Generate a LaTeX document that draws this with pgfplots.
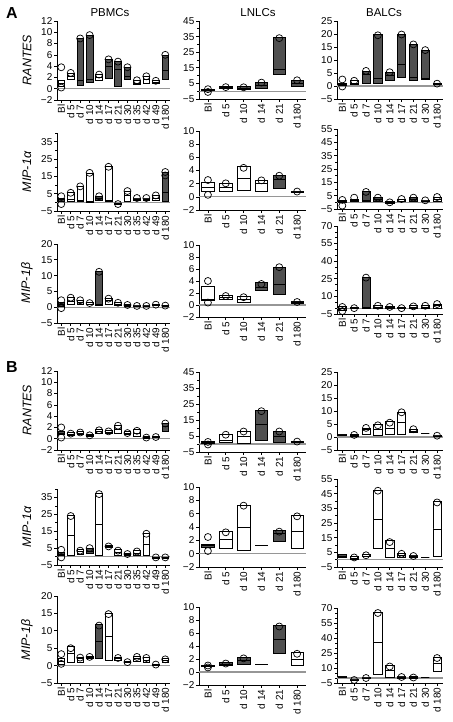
\documentclass[border=0pt]{standalone}
\usepackage{pgfplots}
\pgfplotsset{compat=1.18}
\usepgfplotslibrary{statistics}
\usepackage{fontspec}
\setmainfont{Liberation Sans}
\definecolor{dk}{RGB}{80,80,80}
\definecolor{zlc}{RGB}{150,150,150}
\newcommand\tl{\fontsize{10}{10}\selectfont}
\newcommand\bx[5]{\addplot[bxs,#5,boxplot prepared={draw direction=y,draw position=#1,lower whisker=#2,lower quartile=#2,median=#3,upper quartile=#4,upper whisker=#4,box extend=0.7,whisker extend=0}]}
\pgfplotsset{
 bxs/.style={draw=black, line width=0.65bp, mark=o, mark size=3.5bp, mark options={line width=0.7bp, fill=none, solid}},
 wh/.style={fill=white},
 dk/.style={fill=dk},
 panel/.style={scale only axis, anchor=south west, axis x line*=bottom, axis y line*=left,
   tick align=outside, major tick length=3bp, minor tick length=2bp,
   tick style={black, line width=0.6bp}, axis line style={line width=0.7bp},
   x tick label style={rotate=90, anchor=east, font=\tl, inner sep=1.5bp},
   y tick label style={font=\tl, inner sep=1.5bp},
   enlargelimits=false, clip=false,
   extra y ticks={0}, extra y tick labels={},
   extra y tick style={grid=major, major grid style={draw=zlc, line width=1.2bp}, major tick length=0pt}},
 pb/.style={panel, width=113bp, xmin=-0.45, xmax=11.5, xtick={0,...,11},
   xticklabels={Bl,d 5,d 7,d 10,d 14,d 17,d 21,d 30,d 35,d 42,d 49,d 180}},
 ln/.style={panel, width=107bp, xmin=-0.5, xmax=5.5, xtick={0,...,5},
   xticklabels={Bl,d 5,d 10,d 14,d 21,d 180}},
 ba/.style={panel, width=106bp, xmin=-0.45, xmax=8.5, xtick={0,...,8},
   xticklabels={Bl,d 5,d 7,d 10,d 14,d 17,d 21,d 30,d 180}},
 yR/.style={ymin=-2, ymax=12, ytick={-2,0,...,12}, yticklabels={−2,0,2,4,6,8,10,12}},
 yA/.style={ymin=-5, ymax=40, ytick={-5,5,15,25,35}, yticklabels={−5,5,15,25,35}, minor ytick={0,10,20,30,40}},
 yB/.style={ymin=-5, ymax=20, ytick={-5,0,...,20}, yticklabels={−5,0,5,10,15,20}},
 yLR/.style={ymin=-5, ymax=45, ytick={-5,5,...,45}, yticklabels={−5,5,15,25,35,45}, minor ytick={0,10,...,40}},
 yLM/.style={ymin=-2, ymax=10, ytick={-2,0,...,10}, yticklabels={−2,0,2,4,6,8,10}},
 yBR/.style={ymin=-5, ymax=25, ytick={-5,0,...,25}, yticklabels={−5,0,5,10,15,20,25}},
 yBA/.style={ymin=-5, ymax=55, ytick={-5,5,...,55}, yticklabels={−5,5,15,25,35,45,55}, minor ytick={0,10,...,50}},
 yBB/.style={ymin=-5, ymax=70, ytick={-5,10,25,40,55,70}, yticklabels={−5,10,25,40,55,70}, minor ytick={0,5,15,20,30,35,45,50,60,65}},
}
\begin{document}
\begin{tikzpicture}[x=1bp,y=1bp]
\useasboundingbox (0,0) rectangle (453,722);
% ================= A =================
% A PBMC RANTES
\begin{axis}[pb, yR, at={(57bp,622bp)}, height=79bp]
\bx{0}{0.5}{1.0}{1.4}{wh} coordinates {(0,3.8) (0,0.2)};
\bx{1}{1.6}{2.2}{2.8}{wh} coordinates {(1,2.8)};
\bx{2}{0.6}{1.4}{8.9}{dk} coordinates {(2,8.9)};
\bx{3}{1.2}{1.6}{9.4}{dk} coordinates {(3,9.5)};
\bx{4}{1.5}{2.0}{2.5}{wh} coordinates {(4,2.5)};
\bx{5}{1.8}{4.0}{5.2}{dk} coordinates {(5,5.2)};
\bx{6}{0.5}{3.5}{4.8}{dk} coordinates {(6,4.8)};
\bx{7}{1.7}{2.2}{3.8}{dk} coordinates {(7,3.8)};
\bx{8}{0.8}{1.0}{1.5}{wh} coordinates {(8,1.5)};
\bx{9}{1.0}{1.6}{2.2}{wh} coordinates {(9,2.2)};
\bx{10}{0.9}{1.1}{1.4}{wh} coordinates {(10,1.4)};
\bx{11}{1.6}{3.2}{6.0}{dk} coordinates {(11,6.0)};
\end{axis}
% A LNLC RANTES
\begin{axis}[ln, yLR, at={(199bp,623bp)}, height=78bp]
\bx{0}{0.5}{1.0}{1.4}{dk} coordinates {(0,1.3) (0,-0.5)};
\bx{1}{1.8}{2.2}{2.8}{wh} coordinates {(1,2.6)};
\bx{2}{1.5}{2.0}{2.8}{dk} coordinates {(2,2.5)};
\bx{3}{2.0}{3.5}{5.5}{dk} coordinates {(3,5.5)};
\bx{4}{11}{14}{34.5}{dk} coordinates {(4,34)};
\bx{5}{3}{5}{7}{dk} coordinates {(5,7)};
\end{axis}
% A BALC RANTES
\begin{axis}[ba, yBR, at={(337bp,623bp)}, height=78bp]
\bx{0}{0.2}{0.6}{1.0}{wh} coordinates {(0,2.5) (0,-0.2)};
\bx{1}{0.8}{1.2}{2.0}{wh} coordinates {(1,2.0)};
\bx{2}{1.0}{4.5}{5.8}{dk} coordinates {(2,5.8)};
\bx{3}{1.2}{3.0}{19.8}{dk} coordinates {(3,19.5)};
\bx{4}{2.0}{4.2}{5.2}{dk} coordinates {(4,5.3)};
\bx{5}{3.2}{8.2}{19.8}{dk} coordinates {(5,19.8)};
\bx{6}{2.2}{3.2}{16.2}{dk} coordinates {(6,16)};
\bx{7}{2.4}{2.8}{13.7}{dk} coordinates {(7,13.8)};
\bx{8}{0.6}{0.9}{1.2}{dk} coordinates {(8,0.9)};
\end{axis}
% A PBMC MIP-1a
\begin{axis}[pb, yA, at={(57bp,511bp)}, height=78bp]
\bx{0}{0.8}{1.5}{2.5}{dk} coordinates {(0,3.5) (0,-1.0)};
\bx{1}{0.5}{1.5}{5.5}{wh} coordinates {(1,5.5)};
\bx{2}{0.5}{1.0}{9.2}{wh} coordinates {(2,9.2)};
\bx{3}{0.0}{0.5}{17.0}{wh} coordinates {(3,17)};
\bx{4}{1.0}{2.5}{3.5}{dk} coordinates {(4,3.5)};
\bx{5}{0.5}{1.0}{20.5}{wh} coordinates {(5,20.5)};
\bx{6}{-1.2}{-1.0}{-0.8}{wh} coordinates {(6,-1)};
\bx{7}{0.5}{4.0}{6.5}{wh} coordinates {(7,6.5)};
\bx{8}{1.0}{2.0}{2.5}{wh} coordinates {(8,2.5)};
\bx{9}{1.0}{2.0}{2.5}{wh} coordinates {(9,2.5)};
\bx{10}{1.0}{2.5}{4.0}{wh} coordinates {(10,4.0)};
\bx{11}{0.5}{5.5}{17.5}{dk} coordinates {(11,17.5) (11,15.5)};
\end{axis}
% A LNLC MIP-1a
\begin{axis}[ln, yLM, at={(199bp,512bp)}, height=79bp]
\bx{0}{0.8}{1.4}{2.15}{wh} coordinates {(0,2.55) (0,0.3)};
\bx{1}{0.9}{1.5}{2.1}{wh} coordinates {(1,2.05)};
\bx{2}{1.0}{2.8}{4.6}{wh} coordinates {(2,4.4)};
\bx{3}{0.9}{2.0}{2.5}{wh} coordinates {(3,2.5)};
\bx{4}{1.3}{2.7}{3.2}{dk} coordinates {(4,3.2)};
\bx{5}{0.7}{0.75}{0.85}{dk} coordinates {(5,0.8)};
\end{axis}
% A BALC MIP-1a
\begin{axis}[ba, yBA, at={(337bp,513bp)}, height=80bp]
\bx{0}{0}{0.8}{1.5}{wh} coordinates {(0,1.8) (0,-2.5)};
\bx{1}{0.5}{1.5}{2.5}{dk} coordinates {(1,3.5)};
\bx{2}{1.0}{1.5}{8.0}{dk} coordinates {(2,7.8)};
\bx{3}{1.0}{2.5}{4.0}{dk} coordinates {(3,3.5)};
\bx{4}{-0.5}{0}{0.5}{wh} coordinates {(4,0)};
\bx{5}{0.5}{2.0}{2.5}{wh} coordinates {(5,2.5)};
\bx{6}{1.0}{2.5}{3.5}{dk} coordinates {(6,3.5)};
\bx{7}{0.5}{1.0}{1.5}{wh} coordinates {(7,1.5)};
\bx{8}{0.5}{2.5}{4.0}{wh} coordinates {(8,4.0)};
\end{axis}
% A PBMC MIP-1b
\begin{axis}[pb, yB, at={(57bp,399bp)}, height=79bp]
\bx{0}{0.3}{1.0}{1.5}{dk} coordinates {(0,2.2) (0,-0.3)};
\bx{1}{1.0}{1.7}{3.0}{wh} coordinates {(1,3.0)};
\bx{2}{0.8}{1.5}{2.2}{wh} coordinates {(2,2.2)};
\bx{3}{0.8}{1.0}{1.5}{wh} coordinates {(3,1.3)};
\bx{4}{0.5}{1.0}{11.5}{dk} coordinates {(4,11.2)};
\bx{5}{1.0}{2.2}{2.8}{wh} coordinates {(5,2.7)};
\bx{6}{0.5}{1.0}{1.5}{wh} coordinates {(6,1.4)};
\bx{7}{0.3}{0.5}{0.8}{wh} coordinates {(7,0.7)};
\bx{8}{0.2}{0.4}{0.6}{wh} coordinates {(8,0.4)};
\bx{9}{0.2}{0.4}{0.6}{wh} coordinates {(9,0.4)};
\bx{10}{0.5}{0.8}{1.0}{dk} coordinates {(10,0.8)};
\bx{11}{0.3}{0.5}{0.7}{wh} coordinates {(11,0.5)};
\end{axis}
% A LNLC MIP-1b
\begin{axis}[ln, yLM, at={(199bp,405bp)}, height=72bp]
\bx{0}{0.8}{1.0}{3.1}{wh} coordinates {(0,4.0) (0,0.4)};
\bx{1}{1.0}{1.3}{1.6}{wh} coordinates {(1,1.5)};
\bx{2}{0.5}{1.0}{1.4}{wh} coordinates {(2,1.3)};
\bx{3}{2.4}{3.0}{3.7}{dk} coordinates {(3,3.5)};
\bx{4}{1.8}{3.4}{6.3}{dk} coordinates {(4,6.3)};
\bx{5}{0.3}{0.5}{0.6}{dk} coordinates {(5,0.5)};
\end{axis}
% A BALC MIP-1b
\begin{axis}[ba, yBB, at={(337bp,408bp)}, height=88bp]
\bx{0}{-2.0}{0.0}{1.5}{wh} coordinates {(0,1.0) (0,-2.5)};
\bx{1}{-0.5}{0}{0.5}{wh} coordinates {(1,0)};
\bx{2}{0}{1}{26.5}{dk} coordinates {(2,26)};
\bx{3}{0}{1}{2.5}{wh} coordinates {(3,2)};
\bx{4}{0}{0.5}{1.5}{wh} coordinates {(4,1)};
\bx{5}{-0.5}{0}{0.5}{wh} coordinates {(5,0)};
\bx{6}{0}{1}{2}{wh} coordinates {(6,1.5)};
\bx{7}{0}{1}{2.5}{wh} coordinates {(7,2)};
\bx{8}{0}{2}{3.5}{wh} coordinates {(8,3.5)};
\end{axis}
% ================= B =================
% B PBMC RANTES
\begin{axis}[pb, yR, at={(57bp,272bp)}, height=79bp]
\bx{0}{0.7}{1.0}{1.3}{dk} coordinates {(0,2.0) (0,0.2)};
\bx{1}{0.6}{0.8}{1.1}{wh} coordinates {(1,0.9)};
\bx{2}{0.7}{1.0}{1.3}{wh} coordinates {(2,1.1)};
\bx{3}{0.4}{0.6}{0.8}{wh} coordinates {(3,0.6)};
\bx{4}{1.0}{1.3}{1.6}{wh} coordinates {(4,1.5)};
\bx{5}{1.0}{1.2}{1.5}{wh} coordinates {(5,1.3)};
\bx{6}{1.0}{1.7}{2.3}{wh} coordinates {(6,2.3)};
\bx{7}{0.7}{1.0}{1.3}{wh} coordinates {(7,1.0)};
\bx{8}{0.5}{1.0}{1.6}{wh} coordinates {(8,1.4)};
\bx{9}{0.1}{0.2}{0.4}{wh} coordinates {(9,0.2)};
\bx{10}{0.2}{0.3}{0.5}{wh} coordinates {(10,0.3)};
\bx{11}{1.3}{2.2}{2.8}{dk} coordinates {(11,2.7)};
\end{axis}
% B LNLC RANTES
\begin{axis}[ln, yLR, at={(199bp,270bp)}, height=80bp]
\bx{0}{0.2}{1.0}{1.5}{wh} coordinates {(0,1.3) (0,-0.3)};
\bx{1}{1.0}{2.5}{6.0}{wh} coordinates {(1,5.8)};
\bx{2}{0.5}{4.5}{8.0}{wh} coordinates {(2,7.8)};
\bx{3}{2.5}{12.0}{21.0}{dk} coordinates {(3,20.5)};
\bx{4}{1.0}{4.5}{8.0}{dk} coordinates {(4,7.8)};
\bx{5}{1.2}{1.5}{1.8}{wh} coordinates {(5,1.5)};
\end{axis}
% B BALC RANTES
\begin{axis}[ba, yBR, at={(337bp,272bp)}, height=78bp]
\bx{0}{0.5}{0.8}{1.1}{dk} coordinates {};
\bx{1}{0.3}{0.6}{1.0}{wh} coordinates {(1,0.8)};
\bx{2}{1.0}{2.8}{3.5}{wh} coordinates {(2,3.5)};
\bx{3}{0.8}{2.8}{4.8}{wh} coordinates {(3,4.5)};
\bx{4}{1.0}{3.5}{6.0}{wh} coordinates {(4,5.5)};
\bx{5}{1.2}{5.5}{9.5}{wh} coordinates {(5,9.5)};
\bx{6}{1.8}{2.2}{3.0}{wh} coordinates {(6,3.0)};
\bx{7}{1.5}{1.5}{1.5}{wh} coordinates {};
\bx{8}{0.2}{0.4}{0.6}{wh} coordinates {(8,0.5)};
\end{axis}
% B PBMC MIP-1a
\begin{axis}[pb, yA, at={(57bp,157bp)}, height=76bp]
\bx{0}{0.8}{1.5}{2.5}{dk} coordinates {(0,4.0) (0,-0.5)};
\bx{1}{0.5}{12.5}{24.5}{wh} coordinates {(1,24)};
\bx{2}{1.5}{3.0}{4.0}{wh} coordinates {(2,3.5)};
\bx{3}{2.0}{3.0}{5.0}{dk} coordinates {(3,5.0)};
\bx{4}{0.5}{19.0}{37.5}{wh} coordinates {(4,37)};
\bx{5}{5.5}{6.0}{6.5}{wh} coordinates {(5,6.0)};
\bx{6}{1.0}{2.5}{4.0}{wh} coordinates {(6,3.5)};
\bx{7}{1.0}{1.5}{2.0}{wh} coordinates {(7,1.5)};
\bx{8}{1.0}{2.0}{3.5}{wh} coordinates {(8,3.0)};
\bx{9}{0.5}{7.5}{14.0}{wh} coordinates {(9,13.5)};
\bx{10}{-0.8}{-0.5}{-0.2}{wh} coordinates {(10,-0.5)};
\bx{11}{-0.8}{-0.5}{-0.2}{wh} coordinates {(11,-0.5)};
\end{axis}
% B LNLC MIP-1a
\begin{axis}[ln, yLM, at={(199bp,155bp)}, height=80bp]
\bx{0}{1.0}{1.2}{1.4}{dk} coordinates {(0,2.5) (0,0.4)};
\bx{1}{0.8}{2.1}{3.4}{wh} coordinates {(1,3.2)};
\bx{2}{0.5}{3.9}{7.3}{wh} coordinates {(2,7.2)};
\bx{3}{1.2}{1.2}{1.2}{wh} coordinates {};
\bx{4}{1.8}{3.0}{3.5}{dk} coordinates {(4,3.3)};
\bx{5}{0.8}{3.3}{5.8}{wh} coordinates {(5,5.6)};
\end{axis}
% B BALC MIP-1a
\begin{axis}[ba, yBA, at={(337bp,155bp)}, height=88bp]
\bx{0}{1.5}{2.5}{3.5}{dk} coordinates {};
\bx{1}{0.5}{1.0}{2.0}{wh} coordinates {(1,1.5)};
\bx{2}{2.0}{2.5}{3.5}{wh} coordinates {(2,3.0)};
\bx{3}{7.5}{27.5}{47.5}{wh} coordinates {(3,47)};
\bx{4}{1.5}{7.5}{13.0}{wh} coordinates {(4,12)};
\bx{5}{1.5}{3.0}{4.5}{wh} coordinates {(5,4.0)};
\bx{6}{1.5}{2.5}{3.0}{wh} coordinates {(6,2.5)};
\bx{7}{1.8}{1.8}{1.8}{wh} coordinates {};
\bx{8}{2.0}{21.0}{39.5}{wh} coordinates {(8,39)};
\end{axis}
% B PBMC MIP-1b
\begin{axis}[pb, yB, at={(57bp,39bp)}, height=87bp]
\bx{0}{0.5}{1.2}{2.0}{wh} coordinates {(0,3.3) (0,0.5)};
\bx{1}{1.0}{3.5}{5.5}{wh} coordinates {(1,5.0)};
\bx{2}{1.0}{2.0}{2.5}{wh} coordinates {(2,2.3)};
\bx{3}{2.0}{2.4}{2.8}{wh} coordinates {(3,2.5)};
\bx{4}{2.0}{7.0}{12.0}{dk} coordinates {(4,11.5)};
\bx{5}{1.5}{8.5}{15.0}{wh} coordinates {(5,14.8)};
\bx{6}{1.5}{2.0}{2.5}{wh} coordinates {(6,2.2)};
\bx{7}{0.8}{1.0}{1.2}{wh} coordinates {(7,1.0)};
\bx{8}{1.2}{2.0}{2.7}{wh} coordinates {(8,2.5)};
\bx{9}{1.0}{1.5}{2.5}{wh} coordinates {(9,2.2)};
\bx{10}{0}{0.3}{0.5}{wh} coordinates {(10,0.3)};
\bx{11}{0.8}{1.5}{2.2}{wh} coordinates {(11,1.8)};
\end{axis}
% B LNLC MIP-1b
\begin{axis}[ln, yLM, at={(199bp,37bp)}, height=78bp]
\bx{0}{0.8}{0.9}{1.0}{dk} coordinates {(0,1.0) (0,0.7)};
\bx{1}{1.0}{1.2}{1.5}{dk} coordinates {(1,1.3)};
\bx{2}{1.2}{1.8}{2.3}{dk} coordinates {(2,2.1)};
\bx{3}{1.2}{1.2}{1.2}{wh} coordinates {};
\bx{4}{2.8}{5.0}{7.2}{dk} coordinates {(4,7.0)};
\bx{5}{1.0}{2.0}{3.0}{wh} coordinates {(5,2.8)};
\end{axis}
% B BALC MIP-1b
\begin{axis}[ba, yBB, at={(337bp,39bp)}, height=75bp]
\bx{0}{0.5}{1.0}{1.5}{dk} coordinates {};
\bx{1}{-2.5}{-2.0}{-1.5}{wh} coordinates {(1,-2)};
\bx{2}{-0.5}{0}{0.5}{wh} coordinates {(2,0)};
\bx{3}{4.0}{36.0}{66.0}{wh} coordinates {(3,65)};
\bx{4}{1.0}{8.0}{13.0}{wh} coordinates {(4,11.5)};
\bx{5}{0}{1.0}{2.0}{wh} coordinates {(5,1)};
\bx{6}{0}{0.5}{1.5}{wh} coordinates {(6,0.5)};
\bx{7}{0.5}{0.5}{0.5}{wh} coordinates {};
\bx{8}{7.0}{15.0}{21.0}{wh} coordinates {(8,20)};
\end{axis}
% ================= labels =================
\node[font=\fontsize{16}{16}\selectfont\bfseries] at (12,709) {A};
\node[font=\fontsize{16}{16}\selectfont\bfseries] at (12,355) {B};
\node[font=\fontsize{11.5}{11.5}\selectfont] at (110,709) {PBMCs};
\node[font=\fontsize{11.5}{11.5}\selectfont] at (258,709) {LNLCs};
\node[font=\fontsize{11.5}{11.5}\selectfont] at (384,709) {BALCs};
\begin{scope}[every node/.style={rotate=90, font=\fontsize{12.5}{12.5}\selectfont\itshape}]
\node at (27,662) {RANTES};
\node at (27,550) {MIP-1α};
\node at (27,439) {MIP-1β};
\node at (27,312) {RANTES};
\node at (27,195) {MIP-1α};
\node at (27,82) {MIP-1β};
\end{scope}
\end{tikzpicture}
\end{document}
